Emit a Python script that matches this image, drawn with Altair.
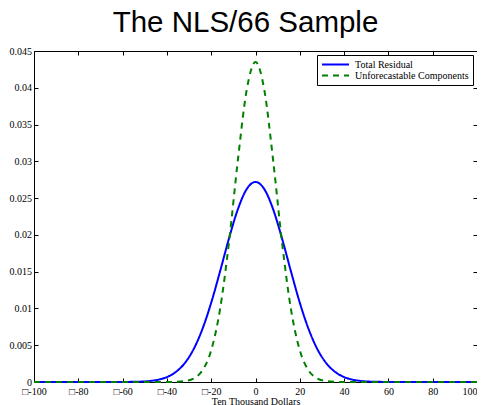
import altair as alt
import pandas as pd

# Values
x_vals = [-100, -80, -60, -56, -52, -48, -44, -40, -36, -32, -28, -24, -20, -16, -12, -8, -4,
          0, 4, 8, 12, 16, 20, 24, 28, 32, 36, 40, 44, 48, 52, 56, 60, 80, 100]
total_residual = [0, 0, 0.00001, 0.00002, 0.00005, 0.00013, 0.00031, 0.00067, 0.00136, 0.00254,
                  0.00443, 0.00717, 0.01078, 0.01504, 0.01949, 0.02345, 0.02621,
                  0.02720,
                  0.02621, 0.02345, 0.01949, 0.01504, 0.01078, 0.00717, 0.00443, 0.00254,
                  0.00136, 0.00067, 0.00031, 0.00013, 0.00005, 0.00002, 0.00001, 0, 0]
unforecastable = [0, 0, 0, 0, 0, 0, 0, 0, 0.00002, 0.00012,
                  0.00047, 0.00156, 0.00431, 0.00990, 0.01892, 0.03005, 0.03966,
                  0.04350,
                  0.03966, 0.03005, 0.01892, 0.00990, 0.00431, 0.00156, 0.00047, 0.00012,
                  0.00002, 0, 0, 0, 0, 0, 0, 0, 0]
series_names = ['Total Residual', 'Unforecastable Components']
series_colors = ['#0000ff', '#008000']
x_ticks = [-100, -80, -60, -40, -20, 0, 20, 40, 60, 80, 100]
y_ticks = [0, 0.005, 0.01, 0.015, 0.02, 0.025, 0.03, 0.035, 0.04, 0.045]

rows = []
for name, ys in zip(series_names, [total_residual, unforecastable]):
    for x, y in zip(x_vals, ys):
        rows.append({'x': x, 'y': y, 'series': name})
df = pd.DataFrame(rows)

x_scale = alt.Scale(domain=[-100, 100], nice=False)
y_scale = alt.Scale(domain=[0, 0.045], nice=False)

legend = alt.Legend(
    title=None, orient='none', legendX=283, legendY=4,
    strokeColor='black', fillColor='white', padding=4,
    symbolType='M-3,0H3', symbolSize=81, symbolStrokeWidth=2, symbolOffset=9,
    labelFont='Liberation Serif', labelFontSize=10, labelColor='black',
    labelOffset=14, labelLimit=300, rowPadding=0
)

# last label would run past the page edge, so it is right-aligned
last_label_align = {'condition': {'test': 'datum.value == 100', 'value': 'right'}, 'value': 'center'}

lines = alt.Chart(df).mark_line(strokeWidth=2, interpolate='monotone').encode(
    x=alt.X('x:Q', scale=x_scale, axis=alt.Axis(
        values=x_ticks, title='Ten Thousand Dollars', grid=False, domain=False,
        offset=-4, tickSize=4, labelPadding=4, titlePadding=0,
        labelFlush=False, labelOverlap=False, labelAlign=last_label_align,
        labelExpr="datum.value < 0 ? '□-' + abs(datum.value) : '' + datum.value"
    )),
    y=alt.Y('y:Q', scale=y_scale, axis=alt.Axis(
        values=y_ticks, title=None, grid=False, domain=False, format='~g',
        offset=-4, tickSize=4, labelPadding=2.5, labelOverlap=False
    )),
    color=alt.Color('series:N', scale=alt.Scale(domain=series_names, range=series_colors), legend=legend),
    strokeDash=alt.StrokeDash('series:N', scale=alt.Scale(domain=series_names, range=[[1, 0], [6, 5]]), legend=legend),
    order=alt.Order('x:Q')
)

# invisible layer that carries the mirrored ticks on top and right
mirror = alt.Chart(df).mark_point(opacity=0).encode(
    x=alt.X('x:Q', scale=x_scale, axis=alt.Axis(
        orient='top', values=x_ticks, labels=False, title=None, grid=False,
        domain=False, offset=-4, tickSize=4
    )),
    y=alt.Y('y:Q', scale=y_scale, axis=alt.Axis(
        orient='right', values=y_ticks, labels=False, title=None, grid=False,
        domain=False, offset=-4, tickSize=4
    ))
)

chart = alt.layer(lines, mirror).resolve_axis(
    x='independent', y='independent'
).properties(
    width=443,
    height=331,
    autosize=alt.AutoSizeParams(type='none'),
    padding={'left': 26, 'top': 43, 'right': 0, 'bottom': 26},
    title=alt.Title('The NLS/66 Sample', font='Liberation Sans', fontSize=29.5,
                    fontWeight='normal', color='black', anchor='middle',
                    offset=8, dx=-10)
).configure_view(
    stroke='black', strokeWidth=1
).configure_axis(
    labelFont='Liberation Serif', labelFontSize=10, labelColor='black',
    tickColor='black', tickWidth=1, titleFont='Liberation Serif', titleFontSize=10,
    titleFontWeight='normal', titleColor='black'
)

chart.save('out.html', embed_options={'renderer': 'svg', 'actions': False})
